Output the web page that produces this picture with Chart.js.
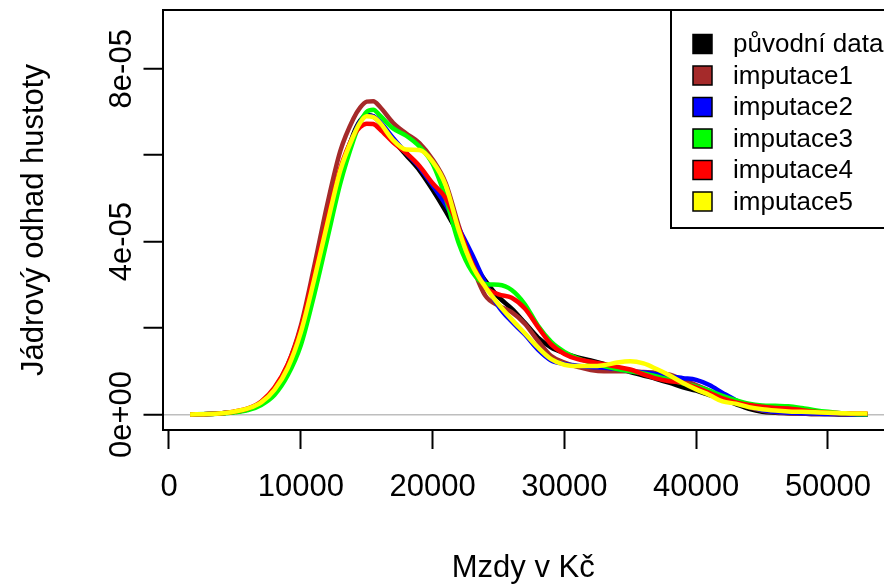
<!DOCTYPE html>
<html>
<head>
<meta charset="utf-8">
<title>Jádrový odhad hustoty</title>
<script src="https://cdn.jsdelivr.net/npm/chart.js@4.4.1/dist/chart.umd.min.js"></script>
<style>
  html, body { margin: 0; padding: 0; background: #fff; overflow: hidden; }
  #chart { display: block; }
</style>
</head>
<body>
<canvas id="chart" width="884" height="586"></canvas>
<script>
const mzdy = [1600, 3000, 4000, 5000, 6000, 7000, 8000, 9000, 10000, 11000, 12000, 13000, 14000, 14500, 15000, 15500,
  16000, 17000, 18000, 19000, 20000, 21000, 22000, 23000, 24000, 25000, 26000, 27000, 28000, 29000, 30000,
  31000, 32000, 33000, 34000, 35000, 36000, 37000, 38000, 39000, 40000, 41000, 42000, 43000, 44000, 45000,
  46000, 47000, 48000, 49000, 50000, 51000, 52000, 53000];

// kernel density estimates, in units of 1e-05
const puvodniData = [0, 0.01, 0.03, 0.06, 0.12, 0.25, 0.52, 1.0, 1.8, 3.0, 4.3, 5.6, 6.5, 6.8, 6.93, 6.9,
  6.75, 6.35, 6.0, 5.65, 5.2, 4.7, 4.15, 3.55, 3.1, 2.72, 2.45, 2.12, 1.78, 1.55, 1.42,
  1.32, 1.25, 1.17, 1.08, 0.98, 0.9, 0.82, 0.73, 0.63, 0.55, 0.45, 0.35, 0.24, 0.13, 0.06,
  0.04, 0.03, 0.02, 0.01, 0.01, 0, 0, 0];
const imputace1 = [0, 0.01, 0.03, 0.06, 0.13, 0.28, 0.6, 1.15, 2.05, 3.4, 4.85, 6.1, 6.85, 7.1, 7.24, 7.25,
  7.12, 6.75, 6.5, 6.28, 5.9, 5.35, 4.35, 3.45, 2.75, 2.52, 2.37, 2.1, 1.7, 1.35, 1.2,
  1.1, 1.03, 1.0, 1.0, 1.0, 0.98, 0.96, 0.92, 0.8, 0.68, 0.55, 0.4, 0.28, 0.17, 0.09,
  0.05, 0.03, 0.02, 0.01, 0.01, 0.01, 0, 0];
const imputace2 = [0, 0.01, 0.03, 0.06, 0.13, 0.27, 0.56, 1.05, 1.85, 3.05, 4.3, 5.55, 6.45, 6.78, 6.92, 6.9,
  6.78, 6.4, 6.05, 5.72, 5.3, 4.85, 4.3, 3.7, 3.05, 2.5, 2.15, 1.85, 1.5, 1.25, 1.17,
  1.13, 1.1, 1.08, 1.05, 1.0, 0.97, 0.93, 0.88, 0.84, 0.8, 0.68, 0.5, 0.33, 0.2, 0.1,
  0.06, 0.04, 0.03, 0.02, 0.01, 0.01, 0, 0];
const imputace3 = [0, 0.01, 0.02, 0.05, 0.1, 0.22, 0.45, 0.9, 1.6, 2.75, 4.05, 5.35, 6.35, 6.75, 7.0, 7.05,
  6.92, 6.62, 6.45, 6.2, 5.8, 5.0, 3.95, 3.3, 3.02, 3.0, 2.88, 2.55, 2.05, 1.68, 1.45,
  1.3, 1.2, 1.12, 1.05, 1.0, 0.95, 0.88, 0.8, 0.72, 0.65, 0.55, 0.43, 0.33, 0.25, 0.21,
  0.2, 0.19, 0.15, 0.1, 0.06, 0.03, 0.01, 0];
const imputace4 = [0, 0.01, 0.03, 0.07, 0.14, 0.3, 0.62, 1.15, 2.0, 3.25, 4.5, 5.7, 6.45, 6.65, 6.73, 6.72,
  6.6, 6.3, 6.05, 5.75, 5.35, 5.0, 4.3, 3.5, 2.95, 2.78, 2.7, 2.45, 2.02, 1.62, 1.4,
  1.28, 1.22, 1.16, 1.1, 1.04, 0.93, 0.83, 0.77, 0.73, 0.62, 0.5, 0.37, 0.28, 0.22, 0.18,
  0.15, 0.14, 0.1, 0.06, 0.04, 0.03, 0.02, 0.02];
const imputace5 = [0, 0.01, 0.03, 0.07, 0.14, 0.28, 0.57, 1.07, 1.9, 3.1, 4.4, 5.65, 6.45, 6.75, 6.9, 6.88,
  6.75, 6.35, 6.13, 6.12, 5.85, 5.3, 4.25, 3.45, 2.95, 2.55, 2.2, 1.88, 1.55, 1.28, 1.15,
  1.12, 1.12, 1.14, 1.2, 1.23, 1.18, 1.05, 0.9, 0.73, 0.58, 0.45, 0.3, 0.25, 0.17, 0.12,
  0.09, 0.07, 0.06, 0.05, 0.04, 0.03, 0.02, 0.02];

const seriesNames = ["původní data", "imputace1", "imputace2", "imputace3", "imputace4", "imputace5"];
const xTicks = [0, 10000, 20000, 30000, 40000, 50000];
const yTicks = [0, 2, 4, 6, 8];
const yTickLabels = { 0: "0e+00", 4: "4e-05", 8: "8e-05" };

const series = [puvodniData, imputace1, imputace2, imputace3, imputace4, imputace5];
const colors = ["#000000", "#a52a2a", "#0000ff", "#00ff00", "#ff0000", "#ffff00"];

const datasets = series.map((vals, i) => ({
  label: seriesNames[i],
  data: mzdy.map((x, j) => ({ x: x, y: vals[j] })),
  borderColor: colors[i],
  backgroundColor: colors[i],
  order: series.length - i   // later series drawn on top, as in R
}));

Chart.defaults.font.family = "'Liberation Sans', Arial, sans-serif";
Chart.defaults.color = "#000";

// R style frame (top edge) and the legend box inside the plot
const rFrame = {
  id: "rFrame",
  afterDraw(chart) {
    const { ctx, chartArea } = chart;
    ctx.save();
    ctx.strokeStyle = "#000";
    ctx.lineWidth = 2;
    ctx.beginPath();
    ctx.moveTo(chartArea.left, chartArea.top);
    ctx.lineTo(chartArea.right + 10, chartArea.top);
    ctx.stroke();

    // legend
    const lx = 671, ly = chartArea.top, lh = 218;
    ctx.fillStyle = "#fff";
    ctx.fillRect(lx, ly, chartArea.right - lx + 20, lh);
    ctx.beginPath();
    ctx.moveTo(chartArea.right + 10, ly);
    ctx.lineTo(lx, ly);
    ctx.lineTo(lx, ly + lh);
    ctx.lineTo(chartArea.right + 10, ly + lh);
    ctx.stroke();

    ctx.font = "26px 'Liberation Sans', Arial, sans-serif";
    ctx.textBaseline = "middle";
    ctx.textAlign = "left";
    chart.data.datasets.forEach((ds, i) => {
      const cy = 44 + i * 31.5;
      ctx.fillStyle = ds.borderColor;
      ctx.fillRect(693, cy - 9.5, 19, 19);
      ctx.lineWidth = 1.5;
      ctx.strokeStyle = "#000";
      ctx.strokeRect(693, cy - 9.5, 19, 19);
      ctx.fillStyle = "#000";
      ctx.fillText(ds.label, 733, cy + 1);
    });
    ctx.restore();
  }
};

new Chart(document.getElementById("chart"), {
  type: "line",
  data: { datasets },
  options: {
    responsive: false,
    animation: false,
    devicePixelRatio: 1,
    layout: { padding: { top: 10, right: 0, left: 0, bottom: 0 } },
    elements: {
      point: { radius: 0 },
      line: { borderWidth: 4.5, cubicInterpolationMode: "monotone" }
    },
    plugins: {
      legend: { display: false },
      tooltip: { enabled: false }
    },
    scales: {
      x: {
        type: "linear",
        min: -493,
        max: 54250,
        afterBuildTicks: (s) => { s.ticks = xTicks.map((v) => ({ value: v })); },
        afterFit: (s) => { s.height = 156; s.paddingLeft = 0; s.paddingRight = 0; },
        grid: { drawOnChartArea: false, drawTicks: true, tickLength: 19, tickColor: "#000", tickWidth: 2 },
        border: { display: true, color: "#000", width: 2 },
        ticks: { font: { size: 31 }, padding: 20, maxRotation: 0, autoSkip: false, callback: (v) => String(v) },
        title: { display: true, text: "Mzdy v Kč", font: { size: 31 }, padding: { top: 0, bottom: -1 } }
      },
      y: {
        type: "linear",
        min: -0.36,
        max: 9.36,
        afterBuildTicks: (s) => { s.ticks = yTicks.map((v) => ({ value: v })); },
        afterFit: (s) => { s.width = 162.5; s.paddingTop = 0; s.paddingBottom = 0; },
        grid: {
          color: (c) => (c.tick && c.tick.value === 0 ? "#bebebe" : "rgba(0,0,0,0)"),
          lineWidth: 1.5,
          tickColor: "#000",
          tickLength: 19,
          tickWidth: 2
        },
        border: { display: true, color: "#000", width: 2 },
        ticks: {
          font: { size: 31 },
          minRotation: 90,
          maxRotation: 90,
          crossAlign: "center",
          padding: -22,
          autoSkip: false,
          callback: (v) => yTickLabels[v] || ""
        },
        title: { display: true, text: "Jádrový odhad hustoty", font: { size: 31 }, padding: { top: 16, bottom: 0 } }
      }
    }
  },
  plugins: [rFrame]
});
</script>
</body>
</html>
